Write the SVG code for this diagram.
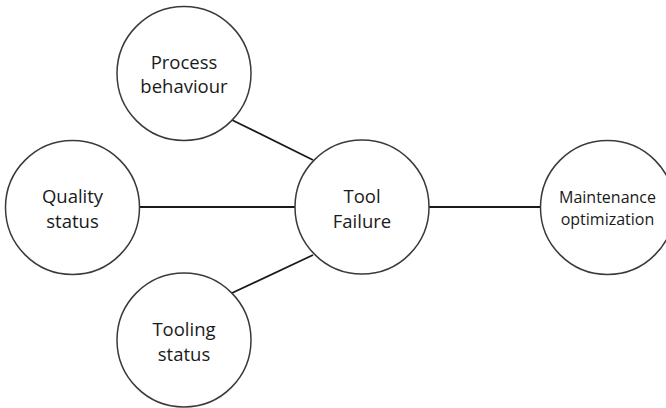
<svg xmlns="http://www.w3.org/2000/svg" width="666" height="408" viewBox="0 0 666 408">
  <style>
    .node circle { fill: #ffffff; stroke: #3a3a3a; stroke-width: 1.5; }
    .node text { font-family: "Open Sans", "Liberation Sans", sans-serif; font-size: 18.5px; fill: #1a1a1a; text-anchor: middle; }
    .node text.small { font-size: 16px; }
    .edges line { stroke: #1a1a1a; stroke-width: 1.8; }
  </style>
  <rect width="666" height="408" fill="#ffffff"/>

  <!-- connectors -->
  <g class="edges">
    <line x1="232" y1="120" x2="313" y2="160"/>
    <line x1="139.5" y1="207" x2="295" y2="207"/>
    <line x1="232" y1="293" x2="313" y2="255"/>
    <line x1="429" y1="207" x2="540.5" y2="207"/>
  </g>

  <g id="process-behaviour" class="node">
    <circle cx="184" cy="73.5" r="67"/>
    <text x="184" y="69">Process</text>
    <text x="184" y="93">behaviour</text>
  </g>

  <g id="quality-status" class="node">
    <circle cx="72.5" cy="207.5" r="67"/>
    <text x="72.5" y="203">Quality</text>
    <text x="72.5" y="228">status</text>
  </g>

  <g id="tool-failure" class="node">
    <circle cx="362" cy="207" r="67"/>
    <text x="362" y="203">Tool</text>
    <text x="362" y="228">Failure</text>
  </g>

  <g id="maintenance-optimization" class="node">
    <circle cx="607.5" cy="207.5" r="67"/>
    <text class="small" x="607.5" y="203">Maintenance</text>
    <text class="small" x="607.5" y="225">optimization</text>
  </g>

  <g id="tooling-status" class="node">
    <circle cx="184" cy="340" r="67"/>
    <text x="184" y="336">Tooling</text>
    <text x="184" y="361">status</text>
  </g>
</svg>
